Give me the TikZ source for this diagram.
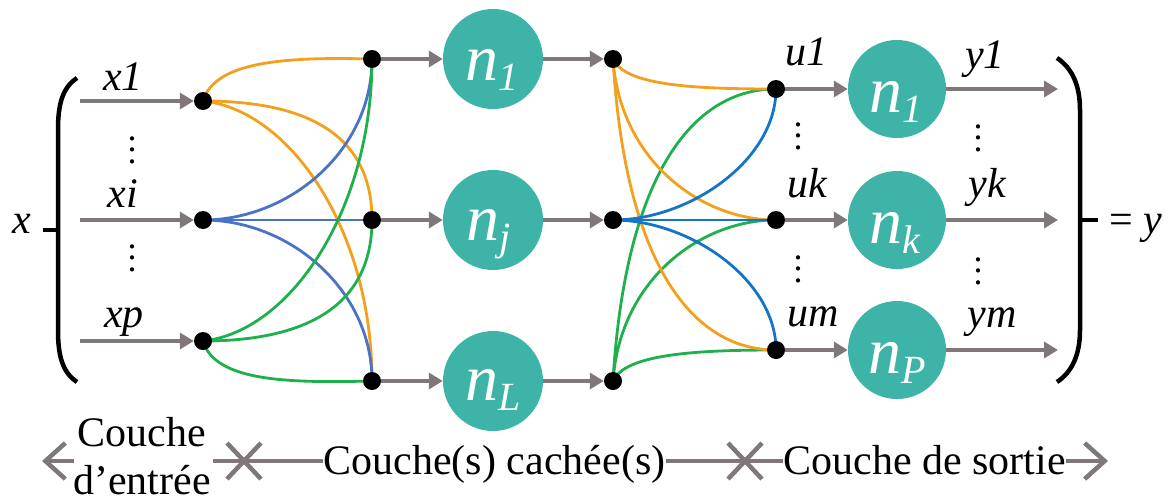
\documentclass[tikz,border=0pt]{standalone}
\usepackage{fontspec}
\setmainfont{LiberationSerif}[Extension=.ttf, UprightFont=*-Regular, ItalicFont=*-Italic, BoldFont=*-Bold, BoldItalicFont=*-BoldItalic]
\usetikzlibrary{arrows.meta,backgrounds,calc}
\definecolor{grayc}{HTML}{7F7778}
\definecolor{tealc}{HTML}{3EB4A9}
\definecolor{orgc}{HTML}{F3A01D}
\definecolor{bluL}{HTML}{4A72C6}
\definecolor{bluR}{HTML}{1474C8}
\definecolor{grnc}{HTML}{1DB04B}
\newcommand{\sbs}[1]{\raisebox{-10pt}{\fontsize{40}{40}\selectfont\textit{#1}}}
\newcommand{\myvdots}{\vbox{\baselineskip=11.5pt\lineskiplimit=0pt\hbox{.}\hbox{.}\hbox{.}}}
\begin{document}
\begin{tikzpicture}[x=1pt,y=-1pt,
  dot/.style={circle,fill=black,minimum size=18pt,inner sep=0pt},
  neuron/.style={circle,fill=tealc,minimum size=#1,inner sep=0pt},
  neuron/.default=100pt,
  garrow/.style={draw=grayc,line width=4pt,-{Triangle[length=14pt,width=16pt]}},
  curv/.style={line width=2.8pt},
  lab/.style={font=\fontsize{42}{42}\selectfont\itshape,inner sep=0pt,anchor=base},
  nlab/.style={font=\fontsize{66}{66}\selectfont\itshape,text=white,inner sep=0pt,anchor=base west},
  axtext/.style={font=\fontsize{42}{42}\selectfont,inner sep=0pt,anchor=base},
  vd/.style={font=\fontsize{36}{36}\selectfont,inner sep=0pt},
  brk/.style={line width=4.5pt,black},
  axisline/.style={draw=grayc,line width=4.5pt},
  barb/.style={-{Straight Barb[length=20pt,width=36pt]}}
]
\useasboundingbox (0,0) rectangle (1170,501);

% dots
\node[dot] (i1) at (203,101) {};
\node[dot] (i2) at (203,220) {};
\node[dot] (i3) at (203,341) {};
\node[dot] (h1) at (372,59) {};
\node[dot] (h2) at (372,220) {};
\node[dot] (h3) at (372,381) {};
\node[dot] (o1) at (613,59) {};
\node[dot] (o2) at (613,220) {};
\node[dot] (o3) at (613,381) {};
\node[dot] (u1) at (776,89) {};
\node[dot] (u2) at (776,220) {};
\node[dot] (u3) at (776,350) {};

% neurons
\node[neuron] (c1) at (493,59) {};
\node[neuron] (c2) at (493,220) {};
\node[neuron] (c3) at (493,381) {};
\node[neuron=98pt] (d1) at (897,89) {};
\node[neuron=98pt] (d2) at (897,220) {};
\node[neuron=98pt] (d3) at (897,350) {};

\node[nlab] at ($(c1.center)+(-28,21)$) {n\sbs{1}};
\node[nlab] at ($(c2.center)+(-27,20)$) {n\sbs{j}};
\node[nlab] at ($(c3.center)+(-28,19)$) {n\sbs{L}};
\node[nlab] at ($(d1.center)+(-28,23)$) {n\sbs{1}};
\node[nlab] at ($(d2.center)+(-28,23)$) {n\sbs{k}};
\node[nlab] at ($(d3.center)+(-29,23)$) {n\sbs{P}};

\begin{scope}[on background layer]
% input -> hidden
\draw[curv,orgc] (i1.center) .. controls (215,60) and (290,57) .. (h1.center);
\draw[curv,orgc] (i1.center) .. controls (300,101) and (372,130) .. (h2.center);
\draw[curv,orgc] (i1.center) .. controls (290,110) and (372,230) .. (h3.center);
\draw[curv,bluL] (i2.center) .. controls (290,220) and (372,150) .. (h1.center);
\draw[curv,bluL] (i2.center) -- (h2.center);
\draw[curv,bluL] (i2.center) .. controls (290,220) and (372,290) .. (h3.center);
\draw[curv,grnc] (i3.center) .. controls (290,332) and (372,210) .. (h1.center);
\draw[curv,grnc] (i3.center) .. controls (300,341) and (372,310) .. (h2.center);
\draw[curv,grnc] (i3.center) .. controls (215,382) and (290,383) .. (h3.center);
% hidden -> output
\draw[curv,grnc] (o3.center) .. controls (625,180) and (690,89) .. (u1.center);
\draw[curv,grnc] (o3.center) .. controls (620,280) and (700,220) .. (u2.center);
\draw[curv,grnc] (o3.center) .. controls (625,355) and (690,350) .. (u3.center);
\draw[curv,orgc] (o1.center) .. controls (625,85) and (690,89) .. (u1.center);
\draw[curv,orgc] (o1.center) .. controls (620,160) and (700,220) .. (u2.center);
\draw[curv,orgc] (o1.center) .. controls (625,260) and (690,350) .. (u3.center);
\draw[curv,bluR] (o2.center) .. controls (690,220) and (776,160) .. (u1.center);
\draw[curv,bluR] (o2.center) -- (u2.center);
\draw[curv,bluR] (o2.center) .. controls (690,220) and (776,280) .. (u3.center);
\end{scope}

% gray arrows
\coordinate (s1) at (80,101);
\coordinate (s2) at (80,220);
\coordinate (s3) at (80,341);
\coordinate (e1) at (1058,89);
\coordinate (e2) at (1058,220);
\coordinate (e3) at (1058,350);
\draw[garrow] (s1) -- (i1);
\draw[garrow] (s2) -- (i2);
\draw[garrow] (s3) -- (i3);
\draw[garrow] (h1) -- (c1);
\draw[garrow] (h2) -- (c2);
\draw[garrow] (h3) -- (c3);
\draw[garrow] (c1) -- (o1);
\draw[garrow] (c2) -- (o2);
\draw[garrow] (c3) -- (o3);
\draw[garrow] (u1) -- (d1);
\draw[garrow] (u2) -- (d2);
\draw[garrow] (u3) -- (d3);
\draw[garrow] (d1) -- (e1);
\draw[garrow] (d2) -- (e2);
\draw[garrow] (d3) -- (e3);

% labels
\node[lab] (lx1) at (123,90) {x1};
\node[lab] (lxi) at (123,207) {xi};
\node[lab] (lxp) at (124,327) {xp};
\node[lab] (lu1) at (806,65) {u1};
\node[lab] (luk) at (807,197) {uk};
\node[lab] (lum) at (813,326) {um};
\node[lab] (ly1) at (985,68) {y1};
\node[lab] (lyk) at (987,197) {yk};
\node[lab] (lym) at (992,327) {ym};
\node[lab] (lx) at (22,233) {x};
\node[lab,anchor=base west] (ly) at (1109,233) {\upshape= \itshape y};

% vdots
\node[vd] at (132,150) {\myvdots};
\node[vd] at (132,258) {\myvdots};
\node[vd] at (798,136) {\myvdots};
\node[vd] at (798,269) {\myvdots};
\node[vd] at (978,138) {\myvdots};
\node[vd] at (978,271) {\myvdots};

% brackets
\draw[brk] (77,78) .. controls (62,88) and (58,105) .. (58,130) -- (58,330) .. controls (58,355) and (62,372) .. (77,382);
\draw[brk] (43,230) -- (58,230);
\draw[brk] (1057,58) .. controls (1072,68) and (1080,85) .. (1080,110) -- (1080,330) .. controls (1080,355) and (1072,372) .. (1057,382);
\draw[brk] (1080,220) -- (1098,220);

% bottom axis
\node[axtext] (tin) at (142,446) {Couche};
\node[axtext] (tin2) at (142,494) {d’entrée};
\node[axtext] (thid) at (494.5,474) {Couche(s) cachée(s)};
\node[axtext] (tout) at (924.5,474) {Couche de sortie};
\coordinate (aL) at (42,461);
\coordinate (aR) at (1108,461);
\coordinate (xa) at (244,461);
\coordinate (xb) at (745,461);
\draw[axisline,barb] (tin.west |- aL) ++(-4,0) -- (aL);
\draw[axisline] ($(xa)+(-17,-18)$) -- ($(xa)+(17,18)$);
\draw[axisline] ($(xa)+(-17,18)$) -- ($(xa)+(17,-18)$);
\draw[axisline] ($(xb)+(-17,-18)$) -- ($(xb)+(17,18)$);
\draw[axisline] ($(xb)+(-17,18)$) -- ($(xb)+(17,-18)$);
\draw[axisline] ($(xa)+(-31,0)$) -- (thid.west |- xa);
\draw[axisline] (thid.east |- xb) -- (tout.west |- xb);
\draw[axisline,barb] (tout.east |- aR) -- (aR);
\end{tikzpicture}
\end{document}
